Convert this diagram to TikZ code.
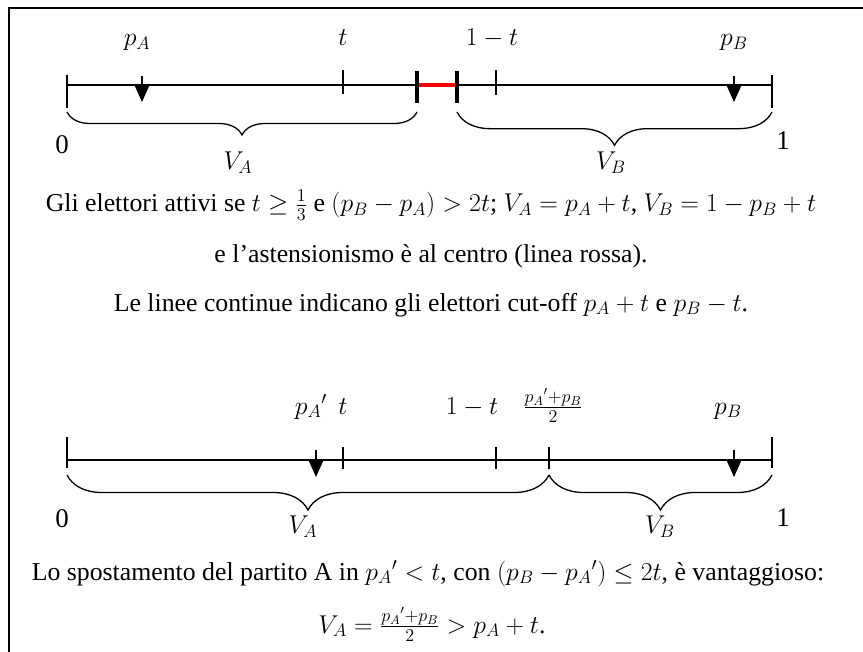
\RequirePackage{fix-cm}
\documentclass[tikz,border=0pt]{standalone}
\usepackage{amsmath,amssymb}
\usepackage{fontspec}
\setmainfont{Liberation Serif}
\usetikzlibrary{arrows.meta,decorations.pathreplacing,calc}

\begin{document}
\begin{tikzpicture}[x=0.03cm, y=-0.03cm,
  frame/.style={line width=1.5pt},
  axis/.style={line width=1.3pt},
  tck/.style={line width=1.1pt},
  cut/.style={line width=2.8pt},
  gap/.style={line width=2.8pt, red},
  party/.style={line width=1.2pt, -{Triangle[length=0.48cm, width=0.42cm]}},
  brc/.style={decorate, line width=1.1pt,
              decoration={brace, mirror, amplitude=#1}},
  lab/.style={font=\fontsize{22}{26}\selectfont, anchor=base, inner sep=0pt},
  num/.style={font=\fontsize{23}{27}\selectfont, inner sep=0pt},
  txt/.style={font=\fontsize{22}{26}\selectfont, anchor=base, inner sep=0pt}
]
  \useasboundingbox (0,0) rectangle (863,652);
  \draw[frame] (9,652) -- (9,8) -- (863,8);

  % first line: abstention in the centre
  \coordinate (O1) at (67,85);
  \coordinate (E1) at (772,85);
  \coordinate (T1) at (343,85);
  \coordinate (L1) at (417,85);
  \coordinate (R1) at (457,85);
  \coordinate (U1) at (496,85);
  \coordinate (PA1) at (142,85);
  \coordinate (PB1) at (734,85);

  \draw[axis] (O1) -- (L1);
  \draw[axis] (R1) -- (E1);
  \draw[gap] (L1) -- (R1);
  \draw[tck] (O1) ++(0,-10) -- ++(0,33);
  \draw[tck] (E1) ++(0,-10) -- ++(0,33);
  \draw[tck] (T1) ++(0,-15) -- ++(0,24);
  \draw[tck] (U1) ++(0,-15) -- ++(0,25);
  \draw[cut] (L1) ++(0,-14) -- ++(0,32);
  \draw[cut] (R1) ++(0,-14) -- ++(0,32);
  \draw[party] (PA1) ++(0,-9) -- ++(0,26);
  \draw[party] (PB1) ++(0,-9) -- ++(0,26);
  \draw[brc=0.69cm] ($(O1)+(0,27)$) -- ($(L1)+(0,27)$);
  \draw[brc=1cm] ($(R1)+(0,27)$) -- ($(E1)+(0,27)$);

  \node[lab] (pA1) at (137,46) {$p_A$};
  \node[lab] (t1) at (343,46) {$t$};
  \node[lab] (u1) at (492,46) {$1-t$};
  \node[lab] (pB1) at (734,46) {$p_B$};
  \node[num] (zero1) at (62,145) {0};
  \node[num] (one1) at (783,141) {1};
  \node[lab, anchor=center] (VA1) at (238,163) {$V_A$};
  \node[lab, anchor=center] (VB1) at (611,163) {$V_B$};

  \node[txt] (cap1) at (431,212) {Gli elettori attivi se $t\geq\frac{1}{3}$ e
    $(p_B-p_A)>2t$; $V_A=p_A+t$, $V_B=1-p_B+t$};
  \node[txt] (cap2) at (431,263) {e l’astensionismo è al centro (linea rossa).};
  \node[txt] (cap3) at (431,311) {Le linee continue indicano gli elettori
    cut-off $p_A+t$ e $p_B-t$.};

  % second line: A moves to p_A'
  \coordinate (O2) at (67,460);
  \coordinate (E2) at (772,460);
  \coordinate (T2) at (343,460);
  \coordinate (U2) at (496,460);
  \coordinate (M2) at (549,460);
  \coordinate (PA2) at (316,460);
  \coordinate (PB2) at (734,460);

  \draw[axis] (O2) -- (E2);
  \draw[tck] (O2) ++(0,-23) -- ++(0,31);
  \draw[tck] (E2) ++(0,-23) -- ++(0,31);
  \draw[tck] (T2) ++(0,-13) -- ++(0,22);
  \draw[tck] (U2) ++(0,-13) -- ++(0,22);
  \draw[tck] (M2) ++(0,-13) -- ++(0,22);
  \draw[party] (PA2) ++(0,-10) -- ++(0,27);
  \draw[party] (PB2) ++(0,-10) -- ++(0,27);
  \draw[brc=1.05cm] ($(O2)+(0,15)$) -- ($(M2)+(0,15)$);
  \draw[brc=1.05cm] ($(M2)+(0,15)$) -- ($(E2)+(0,15)$);

  \node[lab] (pA2) at (311,414) {${p_A}'$};
  \node[lab] (t2) at (343,414) {$t$};
  \node[lab] (u2) at (472,414) {$1-t$};
  \node[lab] (m2) at (553,414) {$\frac{{p_A}'+p_B}{2}$};
  \node[lab] (pB2) at (728,414) {$p_B$};
  \node[num] (zero2) at (62,519) {0};
  \node[num] (one2) at (783,518) {1};
  \node[lab, anchor=center] (VA2) at (303,527) {$V_A$};
  \node[lab, anchor=center] (VB2) at (660,527) {$V_B$};

  \node[txt] (cap4) at (428,580) {Lo spostamento del partito A in ${p_A}'<t$,
    con $(p_B-{p_A}')\leq 2t$, è vantaggioso:};
  \node[txt] (cap5) at (432,633) {$V_A=\frac{{p_A}'+p_B}{2}>p_A+t$.};
\end{tikzpicture}
\end{document}
